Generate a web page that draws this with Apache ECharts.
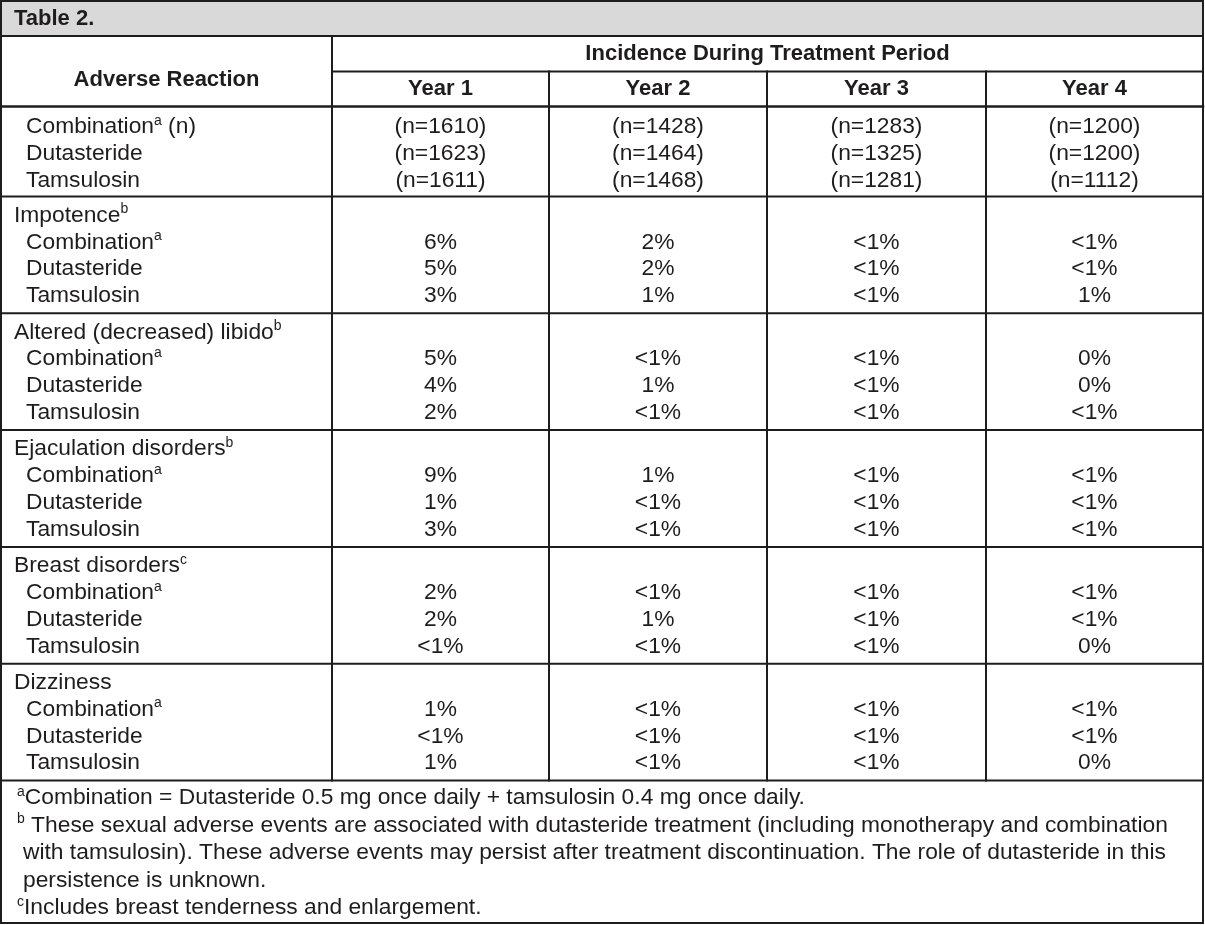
<!DOCTYPE html>
<html><head><meta charset="utf-8">
<script src="https://cdn.jsdelivr.net/npm/echarts@6/dist/echarts.min.js"></script>
<style>html,body{margin:0;padding:0;background:#fff}#chart{width:1205px;height:925px}</style>
</head><body><div id="chart"></div>
<script>
// ---------------- data ----------------
const tableTitle = 'Table 2.';
const rowHeader = 'Adverse Reaction';
const periodHeader = 'Incidence During Treatment Period';
const years = ['Year 1', 'Year 2', 'Year 3', 'Year 4'];
const arms = ['Combination', 'Dutasteride', 'Tamsulosin'];
const armSup = ['a', '', ''];
const nCombination = [1610, 1428, 1283, 1200];
const nDutasteride = [1623, 1464, 1325, 1200];
const nTamsulosin = [1611, 1468, 1281, 1112];
const reactions = ['Impotence', 'Altered (decreased) libido', 'Ejaculation disorders', 'Breast disorders', 'Dizziness'];
const reactionSup = ['b', 'b', 'b', 'c', ''];
const impotence = [['6%', '2%', '<1%', '<1%'], ['5%', '2%', '<1%', '<1%'], ['3%', '1%', '<1%', '1%']];
const libido = [['5%', '<1%', '<1%', '0%'], ['4%', '1%', '<1%', '0%'], ['2%', '<1%', '<1%', '<1%']];
const ejaculation = [['9%', '1%', '<1%', '<1%'], ['1%', '<1%', '<1%', '<1%'], ['3%', '<1%', '<1%', '<1%']];
const breast = [['2%', '<1%', '<1%', '<1%'], ['2%', '1%', '<1%', '<1%'], ['<1%', '<1%', '<1%', '0%']];
const dizziness = [['1%', '<1%', '<1%', '<1%'], ['<1%', '<1%', '<1%', '<1%'], ['1%', '<1%', '<1%', '0%']];
const footnoteMarks = ['a', 'b', '', '', 'c'];
const footnoteLines = [
  'Combination = Dutasteride 0.5 mg once daily + tamsulosin 0.4 mg once daily.',
  ' These sexual adverse events are associated with dutasteride treatment (including monotherapy and combination',
  'with tamsulosin). These adverse events may persist after treatment discontinuation. The role of dutasteride in this',
  'persistence is unknown.',
  'Includes breast tenderness and enlargement.'
];

// ---------------- layout (not data) ----------------
const LAY = {
  W: 1205, H: 925,
  colEdges: [1, 332, 549, 767, 986, 1203],
  top: 1, titleBottom: 36, headMid: 71.5, headBottom: 106.5, rowHeaderY: 80,
  line: 26.8, padTop: 19, padBottom: 17.4, firstPadTop: 20.5, firstGroupH: 90,
  footLine: 27.5, footPad: 17.5, bottom: 923,
  indentGroup: 14, indentArm: 26, indentFoot: 17, indentFootCont: 23
};
const INK = '#1f1c1d';
const FONT = 'Liberation Sans, Arial, Helvetica, sans-serif';
const FS = 22.8;
const RICH = {
  n: { fontSize: FS, fontFamily: FONT, lineHeight: 26, fill: INK, color: INK },
  s: { fontSize: 14, fontFamily: FONT, lineHeight: 16, verticalAlign: 'top', fill: INK, color: INK }
};
function withSup(main, sup, tail) {
  let s = '{n|' + main + '}';
  if (sup) s += '{s|' + sup + '}';
  if (tail) s += '{n|' + tail + '}';
  return s;
}

// build text items & line segments from the data
const texts = [];
const segs = [];
const E = LAY.colEdges;
const colCenter = i => (E[i + 1] + E[i + 2]) / 2;

texts.push({ x: LAY.indentGroup, y: (LAY.top + LAY.titleBottom) / 2, align: 'left', text: tableTitle, bold: true });
texts.push({ x: (E[0] + E[1]) / 2, y: LAY.rowHeaderY, align: 'center', text: rowHeader, bold: true });
texts.push({ x: (E[1] + E[5]) / 2, y: (LAY.titleBottom + LAY.headMid) / 2, align: 'center', text: periodHeader, bold: true });
years.forEach((yr, i) => texts.push({ x: colCenter(i), y: (LAY.headMid + LAY.headBottom) / 2, align: 'center', text: yr, bold: true }));

let y = LAY.headBottom;
const groupBounds = [];
// n group
const nArrays = [nCombination, nDutasteride, nTamsulosin];
let cy = y + LAY.firstPadTop;
arms.forEach((arm, a) => {
  texts.push({ x: LAY.indentArm, y: cy, align: 'left', rich: true, text: withSup(arm, armSup[a], a === 0 ? ' (n)' : '') });
  nArrays[a].forEach((v, i) => texts.push({ x: colCenter(i), y: cy, align: 'center', text: '(n=' + v + ')' }));
  cy += LAY.line;
});
y = LAY.headBottom + LAY.firstGroupH;
groupBounds.push(y);

const reactionData = [impotence, libido, ejaculation, breast, dizziness];
reactions.forEach((r, g) => {
  let c = y + LAY.padTop;
  texts.push({ x: LAY.indentGroup, y: c, align: 'left', rich: true, text: withSup(r, reactionSup[g], '') });
  c += LAY.line;
  arms.forEach((arm, a) => {
    texts.push({ x: LAY.indentArm, y: c, align: 'left', rich: true, text: withSup(arm, armSup[a], '') });
    reactionData[g][a].forEach((v, i) => texts.push({ x: colCenter(i), y: c, align: 'center', text: v }));
    c += LAY.line;
  });
  y = c - LAY.line + LAY.padBottom;
  groupBounds.push(y);
});
const bodyBottom = y;

let fy = bodyBottom + LAY.footPad;
footnoteLines.forEach((t, k) => {
  const mark = footnoteMarks[k];
  const indent = (mark || k === 0 || k === 4) ? LAY.indentFoot : LAY.indentFootCont;
  texts.push({ x: indent, y: fy, align: 'left', rich: true, text: mark ? '{s|' + mark + '}{n|' + t + '}' : '{n|' + t + '}' });
  fy += LAY.footLine;
});

// line segments
segs.push([E[0], LAY.top, E[5], LAY.top]);
segs.push([E[0], LAY.titleBottom, E[5], LAY.titleBottom]);
segs.push([E[1], LAY.headMid, E[5], LAY.headMid]);
segs.push([E[0], LAY.headBottom, E[5], LAY.headBottom, 2.5]);
groupBounds.forEach(b => segs.push([E[0], b, E[5], b]));
segs.push([E[0], LAY.bottom, E[5], LAY.bottom]);
segs.push([E[0], LAY.top, E[0], LAY.bottom]);
segs.push([E[5], LAY.top, E[5], LAY.bottom]);
segs.push([E[1], LAY.titleBottom, E[1], bodyBottom]);
[2, 3, 4].forEach(i => segs.push([E[i], LAY.headMid, E[i], bodyBottom]));

const chart = echarts.init(document.getElementById('chart'), null, { renderer: 'canvas' });
chart.setOption({
  animation: false,
  backgroundColor: '#ffffff',
  grid: { left: 0, top: 0, right: 0, bottom: 0 },
  xAxis: { type: 'value', min: 0, max: LAY.W, show: false },
  yAxis: { type: 'value', min: 0, max: LAY.H, inverse: true, show: false },
  series: [
    {
      type: 'custom', silent: true, z: 1,
      data: [[E[0], LAY.top, E[5] - E[0], LAY.titleBottom - LAY.top]],
      encode: { x: 0, y: 1 },
      renderItem(params, api) {
        const p1 = api.coord([api.value(0), api.value(1)]);
        const p2 = api.coord([api.value(0) + api.value(2), api.value(1) + api.value(3)]);
        return { type: 'rect', shape: { x: p1[0], y: p1[1], width: p2[0] - p1[0], height: p2[1] - p1[1] }, style: { fill: '#d9d9d9' } };
      }
    },
    {
      type: 'custom', silent: true, z: 3,
      data: segs.map(s => [s[0], s[1], s[2], s[3], s[4] || 2]),
      encode: { x: [0, 2], y: [1, 3] },
      renderItem(params, api) {
        const p1 = api.coord([api.value(0), api.value(1)]);
        const p2 = api.coord([api.value(2), api.value(3)]);
        return { type: 'line', shape: { x1: p1[0], y1: p1[1], x2: p2[0], y2: p2[1] }, style: { stroke: INK, lineWidth: api.value(4), lineCap: 'square' } };
      }
    },
    {
      type: 'custom', silent: true, z: 4,
      data: texts.map((t, i) => [t.x, t.y, i]),
      encode: { x: 0, y: 1 },
      renderItem(params, api) {
        const t = texts[api.value(2)];
        const p = api.coord([api.value(0), api.value(1)]);
        const style = {
          text: t.text, fill: INK, align: t.align, verticalAlign: 'middle',
          font: (t.bold ? 'bold 22px ' : FS + 'px ') + FONT
        };
        if (t.rich) style.rich = RICH;
        return { type: 'text', x: p[0], y: p[1], style };
      }
    }
  ]
});
</script></body></html>
